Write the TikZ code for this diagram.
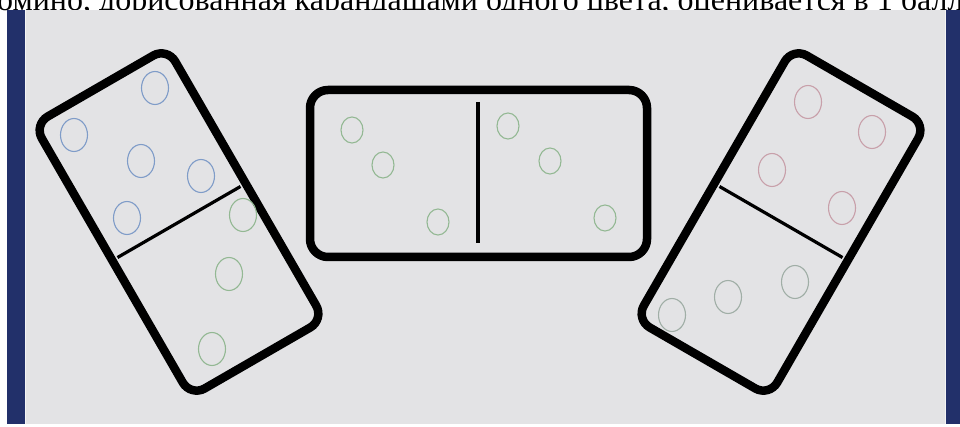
\documentclass[tikz,border=0pt]{standalone}
\usepackage{fontspec}
\setmainfont{Liberation Serif}
\usepackage{xcolor}
\usetikzlibrary{calc}
\definecolor{paper}{HTML}{E3E3E5}
\definecolor{binding}{HTML}{22306A}
\definecolor{pencilblue}{HTML}{7F9CC8}
\definecolor{pencilgreen}{HTML}{93B893}
\definecolor{pencilpink}{HTML}{C8A0AA}
\definecolor{pencilgrey}{HTML}{A0AEA6}
\tikzset{
  tile/.style={draw=black, line width=8.5pt, rounded corners=16pt},
  divider/.style={draw=black, line width=3.2pt},
  bigpip/.style={line width=1.1pt, x radius=13.5pt, y radius=16.5pt},
  smallpip/.style={line width=1.1pt, x radius=11pt, y radius=13pt}
}

\begin{document}
\begin{tikzpicture}[
  x=1pt, y=-1pt,
  caption/.style={inner sep=0pt, anchor=base west, font=\fontsize{32}{32}\selectfont}
]
\useasboundingbox (0,0) rectangle (960,427);
\clip (0,0) rectangle (960,427);
\fill[white] (0,0) rectangle (960,427);
% ---- cut-off line of text above the photo ----
\node[caption] (caption) at (-3,11) {омино, дорисованная карандашами одного цвета, оценивается в 1 балл};
% ---- photo: sheet with blue binding ----
\fill[binding] (7,10) rectangle (960,424);
\fill[paper] (25,10) rectangle (946,424);
\draw[white!60!paper, line width=1.5pt] (25.5,10) -- (25.5,424);
\draw[white!60!paper, line width=1.5pt] (945.5,10) -- (945.5,424);
% ---- LEFT: tilted domino, 5 | 3 ----
\begin{scope}[shift={(179,222)}, rotate=-60]
  \draw[tile] (-157,-77) rectangle (157,77);
  \draw[divider] (0,-71) -- (0,71);
\end{scope}
\foreach \px/\py in {155/88, 74/135, 141/161, 201/176, 127/218}
  \draw[pencilblue, bigpip] (\px,\py) ellipse [];
\foreach \px/\py in {243/215, 229/274, 212/349}
  \draw[pencilgreen, bigpip] (\px,\py) ellipse [];
% ---- CENTER: flat domino, 3 | 3 ----
\draw[tile, rounded corners=18pt] (310,90) rectangle (647,257);
\draw[divider] (478,102) -- (478,243);
\foreach \px/\py in {352/130, 383/165, 438/222, 508/126, 550/161, 605/218}
  \draw[pencilgreen, smallpip] (\px,\py) ellipse [];
% ---- RIGHT: tilted domino, 4 | 3 ----
\begin{scope}[shift={(781,222)}, rotate=60]
  \draw[tile] (-157,-77) rectangle (157,77);
  \draw[divider] (0,-71) -- (0,71);
\end{scope}
\foreach \px/\py in {808/102, 872/132, 772/170, 842/208}
  \draw[pencilpink, bigpip] (\px,\py) ellipse [];
\foreach \px/\py in {795/282, 728/297, 672/315}
  \draw[pencilgrey, bigpip] (\px,\py) ellipse [];
\end{tikzpicture}
\end{document}
